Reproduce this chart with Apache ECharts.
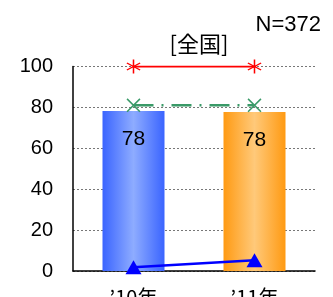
<!DOCTYPE html>
<html>
<head>
<meta charset="utf-8">
<script src="https://cdn.jsdelivr.net/npm/echarts@6/dist/echarts.min.js"></script>
<style>
  html, body { margin: 0; padding: 0; background: #fff; }
  #main { width: 333px; height: 297px; }
</style>
</head>
<body>
<div id="main"></div>
<script>
// data
var categories = ['’10年', '’11年'];
var barValues = [78.2, 77.7];
var redValues = [100, 100];
var greenValues = [81, 81];
var blueValues = [1.8, 5.3];
var yTicks = [0, 20, 40, 60, 80, 100];

var fontJa = '"Noto Sans CJK JP", "Liberation Sans", sans-serif';
var fontNum = '"Liberation Sans", Arial, sans-serif';

// asterisk (vertical + two diagonals) and X marker shapes
var asteriskPath = 'path://M9,0 L11,0 L11,20 L9,20 Z ' +
  'M0.84,5.87 L1.84,4.13 L19.16,14.13 L18.16,15.87 Z ' +
  'M1.84,15.87 L0.84,14.13 L18.16,4.13 L19.16,5.87 Z';
var crossPath = 'path://M0.15,1.85 L20.15,21.85 L21.85,20.15 L1.85,0.15 Z ' +
  'M1.85,21.85 L21.85,1.85 L20.15,0.15 L0.15,20.15 Z';

function hGrad(edge, mid) {
  return new echarts.graphic.LinearGradient(0, 0, 1, 0, [
    {offset: 0, color: edge},
    {offset: 0.5, color: mid},
    {offset: 1, color: edge}
  ]);
}

var chart = echarts.init(document.getElementById('main'));
var option = {
  animation: false,
  title: [
    {
      text: '[全国]',
      left: 194, top: 28, textAlign: 'center',
      textStyle: {fontFamily: fontJa, fontSize: 22, fontWeight: 'normal', color: '#000'}
    },
    {
      text: 'N=372',
      right: 7, top: 9,
      textStyle: {fontFamily: fontNum, fontSize: 22, fontWeight: 'normal', color: '#000'}
    }
  ],
  grid: {left: 73, right: 18, top: 66.5, bottom: 26, outerBoundsMode: 'none'},
  xAxis: {
    type: 'category',
    data: categories,
    axisLine: {lineStyle: {color: '#000', width: 1.5}},
    axisTick: {inside: true, length: 5, lineStyle: {color: '#000'}},
    axisLabel: {fontFamily: fontJa, fontSize: 20, color: '#000', margin: 16}
  },
  yAxis: {
    type: 'value',
    min: yTicks[0], max: yTicks[yTicks.length - 1], interval: 20,
    axisLine: {show: true, lineStyle: {color: '#000', width: 1.5}},
    axisTick: {show: false},
    axisLabel: {fontFamily: fontNum, fontSize: 20, color: '#000', margin: 20},
    splitLine: {lineStyle: {color: '#777', type: [2, 2], width: 1}}
  },
  series: [
    {
      type: 'bar',
      barWidth: 62,
      data: [
        {value: barValues[0], itemStyle: {color: hGrad('#3a64ff', '#8eacff')}},
        {value: barValues[1], itemStyle: {color: hGrad('#ff9a12', '#ffc97a')}}
      ],
      label: {
        show: true, position: 'insideTop', distance: 18,
        fontFamily: fontNum, fontSize: 21, color: '#000',
        formatter: function (p) { return Math.round(p.value); }
      },
      z: 1
    },
    {
      type: 'line',
      data: redValues,
      symbol: asteriskPath, symbolSize: 14,
      itemStyle: {color: '#ff0000'},
      lineStyle: {color: '#ff0000', width: 2},
      z: 3
    },
    {
      type: 'line',
      data: greenValues,
      symbol: crossPath, symbolSize: 14,
      itemStyle: {color: '#3a9a68'},
      lineStyle: {color: '#3a9a68', width: 2.5, type: [20, 8, 2, 8]},
      z: 3
    },
    {
      type: 'line',
      data: blueValues,
      symbol: 'triangle', symbolSize: [16, 14],
      itemStyle: {color: '#0000ff'},
      lineStyle: {color: '#0000ff', width: 2.5},
      z: 4
    }
  ]
};
chart.setOption(option);
</script>
</body>
</html>
